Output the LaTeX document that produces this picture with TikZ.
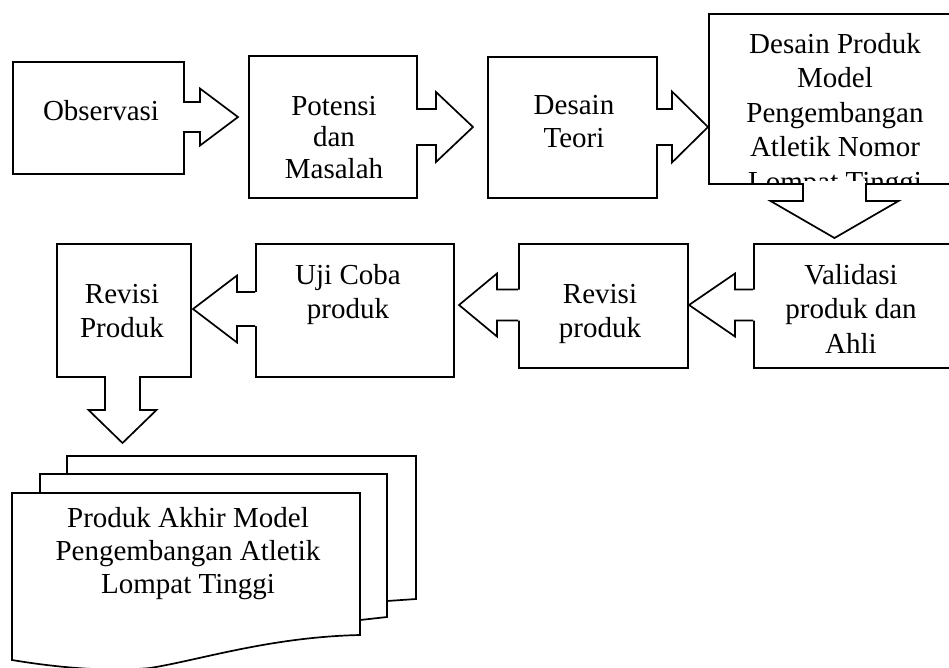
\documentclass[tikz,border=0pt]{standalone}
\usepackage{fontspec}
\setmainfont{Liberation Serif}
\tikzset{
  bx/.style={draw, line width=1.7pt, fill=white, inner sep=0pt, anchor=north west},
  lbl/.style={font=\fontsize{29}{33}\selectfont, align=center, inner sep=0pt},
  lblw/.style={lbl, font=\fontsize{29}{34.5}\selectfont},
  lbln/.style={lbl, font=\fontsize{29}{31.5}\selectfont},
  ln/.style={line width=1.7pt, line join=miter},
}
% horizontal block arrow: x0 (box edge), x1 (head base), xt (tip), ym, shaft half, head half, fill start
\newcommand\harr[7]{%
  \fill[white] (#7,#4-#5) -- (#2,#4-#5) -- (#2,#4-#6) -- (#3,#4) -- (#2,#4+#6) -- (#2,#4+#5) -- (#7,#4+#5) -- cycle;
  \draw[ln] (#1,#4-#5) -- (#2,#4-#5) -- (#2,#4-#6) -- (#3,#4) -- (#2,#4+#6) -- (#2,#4+#5) -- (#1,#4+#5);}
% vertical block arrow: y0, y1, yt, xm, shaft half, head half, fill start
\newcommand\varr[7]{%
  \fill[white] (#4-#5,#7) -- (#4-#5,#2) -- (#4-#6,#2) -- (#4,#3) -- (#4+#6,#2) -- (#4+#5,#2) -- (#4+#5,#7) -- cycle;
  \draw[ln] (#4-#5,#1) -- (#4-#5,#2) -- (#4-#6,#2) -- (#4,#3) -- (#4+#6,#2) -- (#4+#5,#2) -- (#4+#5,#1);}
\begin{document}
\begin{tikzpicture}[x=1pt,y=-1pt]
\useasboundingbox (0,0) rectangle (949,667);
\clip (0,0) rectangle (949,667);
\fill[white] (0,0) rectangle (949,667);
% boxes
\node[bx, minimum width=171pt, minimum height=112pt] (obs) at (12,61) {};
\node[bx, minimum width=168pt, minimum height=142pt] (pot) at (248,55) {};
\node[bx, minimum width=169pt, minimum height=141pt] (teo) at (487,56) {};
\node[bx, minimum width=260pt, minimum height=170pt] (dp) at (708,13) {};
\node[bx, minimum width=220pt, minimum height=124pt] (val) at (753,243) {};
\node[bx, minimum width=169pt, minimum height=124pt] (rp) at (518,243) {};
\node[bx, minimum width=198pt, minimum height=133pt] (uji) at (255,243) {};
\node[bx, minimum width=134pt, minimum height=133pt] (rev) at (56,243) {};
% text
\node[lbl, anchor=base] (tobs) at (101,120) {Observasi};
\node[lbln, anchor=north] (tpot) at (334,96) {Potensi\\dan\\Masalah};
\node[lbl, anchor=north] (tteo) at (574,95) {Desain\\Teori};
\begin{scope}
  \clip (710,14) rectangle (949,182);
  \node[lblw, anchor=north] (tdp) at (835,33) {Desain Produk\\Model\\Pengembangan\\Atletik Nomor\\Lompat Tinggi};
\end{scope}
\node[lblw, anchor=north] (tval) at (851,264) {Validasi\\produk dan\\Ahli};
\node[lblw, anchor=north] (trp) at (600,284) {Revisi\\produk};
\node[lblw, anchor=north] (tuji) at (348,264) {Uji Coba\\produk};
\node[lblw, anchor=north] (trev) at (122,284) {Revisi\\Produk};
% arrows
\harr{183}{200}{238}{117}{15}{28.5}{181}
\harr{416}{436}{473}{127}{18}{35}{414}
\harr{656}{672}{708}{127}{18}{35.5}{654}
\varr{183}{201}{238}{834.5}{31.5}{64}{181}
\harr{753}{735}{689}{305}{15.5}{31.5}{755}
\harr{518}{497}{459}{305}{15.5}{31.5}{520}
\harr{255}{237}{193}{309}{17}{33.5}{257}
\varr{376}{410}{443}{122.5}{17.5}{34}{374}
% multi-document
\draw[ln, fill=white] (67,456) -- (416,456) -- (416,599) -- (387,601) -- (67,601) -- cycle;
\draw[ln, fill=white] (40,474) -- (387,474) -- (387,617) -- (360,620) -- (40,620) -- cycle;
\draw[ln, fill=white] (12,493) -- (360,493) -- (360,635)
   .. controls (270,637) and (200,660) .. (150,668)
   .. controls (110,672) and (60,668) .. (12,660) -- cycle;
\node[lbl, anchor=north] (tdoc) at (188,507) {Produk Akhir Model\\Pengembangan Atletik\\Lompat Tinggi};
\end{tikzpicture}
\end{document}
